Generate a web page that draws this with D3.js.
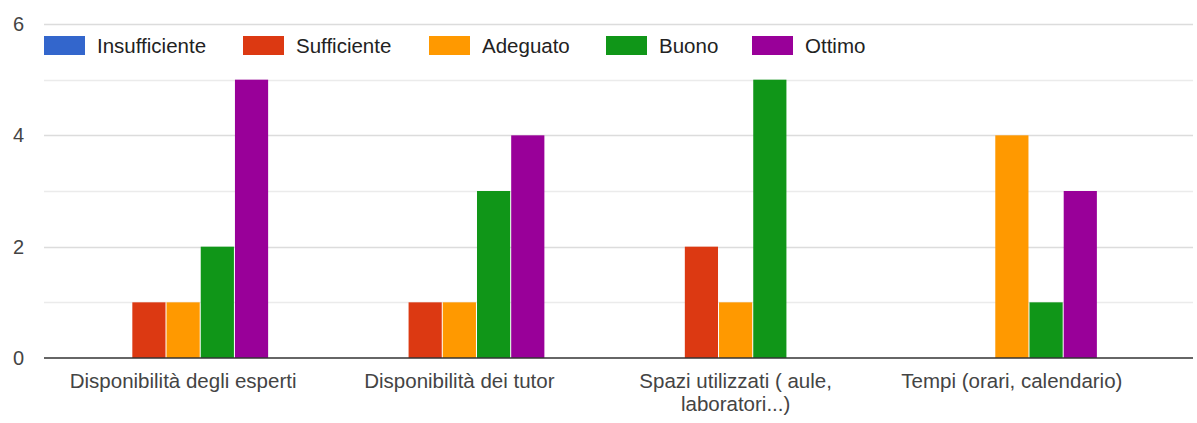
<!DOCTYPE html>
<html>
<head>
<meta charset="utf-8">
<script src="https://cdn.jsdelivr.net/npm/d3@7"></script>
<style>
  html, body { margin: 0; padding: 0; background: #fff; }
  svg { display: block; font-family: "Liberation Sans", Arial, sans-serif; }
</style>
</head>
<body>
<svg id="chart" width="1197" height="423"></svg>
<script>
const categories = [
  ["Disponibilità degli esperti"],
  ["Disponibilità dei tutor"],
  ["Spazi utilizzati ( aule,", "laboratori...)"],
  ["Tempi (orari, calendario)"]
];
const seriesNames = ["Insufficiente", "Sufficiente", "Adeguato", "Buono", "Ottimo"];
const seriesColors = ["#3366cc", "#dc3912", "#ff9900", "#109618", "#990099"];
const insufficiente = [0, 0, 0, 0];
const sufficiente   = [1, 1, 2, 0];
const adeguato      = [1, 1, 1, 4];
const buono         = [2, 3, 5, 1];
const ottimo        = [5, 4, 0, 3];
const yTicks = [0, 2, 4, 6];
const yMinor = [1, 3, 5];

const seriesValues = [insufficiente, sufficiente, adeguato, buono, ottimo];

const svg = d3.select("#chart");
const plotLeft = 44, plotRight = 1193, plotTop = 24, plotBottom = 358;

const x0 = d3.scaleBand()
  .domain(d3.range(categories.length))
  .range([45, 1150])
  .paddingInner(0.3846)
  .paddingOuter(0.1923);
const x1 = d3.scaleBand()
  .domain(d3.range(seriesNames.length))
  .range([0, x0.bandwidth()])
  .paddingInner(0.03);
const y = d3.scaleLinear().domain([0, 6]).range([plotBottom, plotTop]);

// gridlines
svg.append("g").selectAll("line.minor").data(yMinor).join("line")
  .attr("x1", plotLeft).attr("x2", plotRight)
  .attr("y1", d => Math.round(y(d)) + 0.5).attr("y2", d => Math.round(y(d)) + 0.5)
  .attr("stroke", "#ebebeb").attr("stroke-width", 1.5);
svg.append("g").selectAll("line.major").data(yTicks.filter(d => d !== 0)).join("line")
  .attr("x1", plotLeft).attr("x2", plotRight)
  .attr("y1", d => Math.round(y(d)) + 0.5).attr("y2", d => Math.round(y(d)) + 0.5)
  .attr("stroke", "#dcdcdc").attr("stroke-width", 1.5);

// y labels
svg.append("g").selectAll("text").data(yTicks).join("text")
  .attr("x", 24).attr("y", d => y(d)).attr("dy", "0.35em")
  .attr("text-anchor", "end")
  .attr("font-size", 20).attr("fill", "#444")
  .text(d => d);

// bars
const groups = svg.append("g").selectAll("g").data(categories).join("g")
  .attr("transform", (d, i) => `translate(${x0(i)},0)`);
groups.selectAll("rect").data((d, i) => seriesValues.map((vals, s) => ({ s, v: vals[i] })))
  .join("rect")
  .attr("x", d => x1(d.s))
  .attr("width", x1.bandwidth())
  .attr("y", d => y(d.v))
  .attr("height", d => y(0) - y(d.v))
  .attr("fill", d => seriesColors[d.s]);

// baseline
svg.append("line")
  .attr("x1", plotLeft).attr("x2", plotRight)
  .attr("y1", plotBottom).attr("y2", plotBottom)
  .attr("stroke", "#333").attr("stroke-width", 1.5);

// x labels
const xl = svg.append("g").selectAll("text").data(categories).join("text")
  .attr("text-anchor", "middle")
  .attr("font-size", 20.5).attr("fill", "#444")
  .attr("x", (d, i) => x0(i) + x0.bandwidth() / 2)
  .attr("y", 388);
xl.selectAll("tspan").data(d => d).join("tspan")
  .attr("x", function () { return d3.select(this.parentNode).attr("x"); })
  .attr("dy", (d, j) => j === 0 ? 0 : 23)
  .text(d => d);

// legend
const legendX = [44, 243, 429, 606, 752];
const lg = svg.append("g").selectAll("g").data(seriesNames).join("g")
  .attr("transform", (d, i) => `translate(${legendX[i]},36)`);
lg.append("rect").attr("width", 41).attr("height", 19)
  .attr("fill", (d, i) => seriesColors[i]);
lg.append("text").attr("x", 53).attr("y", 9.5).attr("dy", "0.35em")
  .attr("font-size", 20.5).attr("fill", "#222")
  .text(d => d);
</script>
</body>
</html>
